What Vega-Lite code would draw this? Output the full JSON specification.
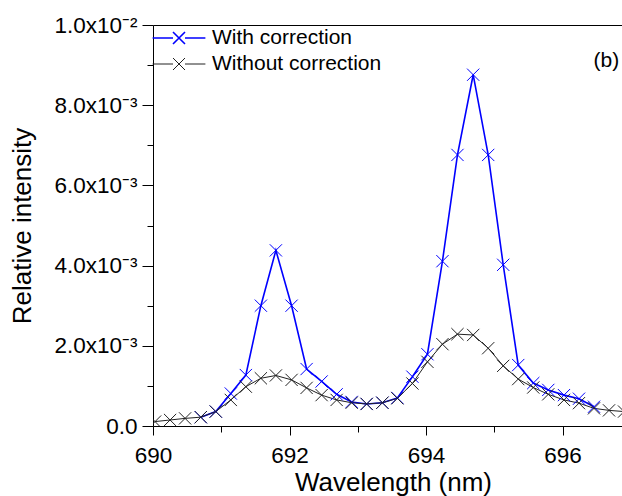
{
  "$schema": "https://vega.github.io/schema/vega-lite/v6.json",
  "width": 469,
  "height": 401,
  "autosize": {"type": "none"},
  "padding": {"left": 153, "top": 25, "right": 0, "bottom": 70},
  "background": "white",
  "config": {
    "view": {"stroke": null},
    "font": "Liberation Sans",
    "axis": {"grid": false, "domainColor": "black", "tickColor": "black", "labelColor": "black", "titleColor": "black", "domainWidth": 1, "tickWidth": 1}
  },
  "data": {
    "values": [
      {"wl": 690.70, "v": 0.00022, "series": "With correction"},
      {"wl": 690.92, "v": 0.00036, "series": "With correction"},
      {"wl": 691.14, "v": 0.00081, "series": "With correction"},
      {"wl": 691.36, "v": 0.00127, "series": "With correction"},
      {"wl": 691.58, "v": 0.00300, "series": "With correction"},
      {"wl": 691.80, "v": 0.00438, "series": "With correction"},
      {"wl": 692.03, "v": 0.00300, "series": "With correction"},
      {"wl": 692.25, "v": 0.00142, "series": "With correction"},
      {"wl": 692.47, "v": 0.00111, "series": "With correction"},
      {"wl": 692.69, "v": 0.00079, "series": "With correction"},
      {"wl": 692.91, "v": 0.00060, "series": "With correction"},
      {"wl": 693.13, "v": 0.00055, "series": "With correction"},
      {"wl": 693.36, "v": 0.00058, "series": "With correction"},
      {"wl": 693.58, "v": 0.00070, "series": "With correction"},
      {"wl": 693.80, "v": 0.00123, "series": "With correction"},
      {"wl": 694.02, "v": 0.00179, "series": "With correction"},
      {"wl": 694.24, "v": 0.00411, "series": "With correction"},
      {"wl": 694.46, "v": 0.00676, "series": "With correction"},
      {"wl": 694.69, "v": 0.00876, "series": "With correction"},
      {"wl": 694.91, "v": 0.00676, "series": "With correction"},
      {"wl": 695.13, "v": 0.00402, "series": "With correction"},
      {"wl": 695.35, "v": 0.00152, "series": "With correction"},
      {"wl": 695.57, "v": 0.00107, "series": "With correction"},
      {"wl": 695.79, "v": 0.00090, "series": "With correction"},
      {"wl": 696.02, "v": 0.00077, "series": "With correction"},
      {"wl": 696.24, "v": 0.00068, "series": "With correction"},
      {"wl": 696.46, "v": 0.00048, "series": "With correction"},
      {"wl": 690.03, "v": 0.00011, "series": "Without correction"},
      {"wl": 690.25, "v": 0.00015, "series": "Without correction"},
      {"wl": 690.47, "v": 0.00019, "series": "Without correction"},
      {"wl": 690.70, "v": 0.00022, "series": "Without correction"},
      {"wl": 690.92, "v": 0.00036, "series": "Without correction"},
      {"wl": 691.14, "v": 0.00065, "series": "Without correction"},
      {"wl": 691.36, "v": 0.00098, "series": "Without correction"},
      {"wl": 691.58, "v": 0.00119, "series": "Without correction"},
      {"wl": 691.80, "v": 0.00126, "series": "Without correction"},
      {"wl": 692.03, "v": 0.00115, "series": "Without correction"},
      {"wl": 692.25, "v": 0.00095, "series": "Without correction"},
      {"wl": 692.47, "v": 0.00077, "series": "Without correction"},
      {"wl": 692.69, "v": 0.00065, "series": "Without correction"},
      {"wl": 692.91, "v": 0.00058, "series": "Without correction"},
      {"wl": 693.13, "v": 0.00055, "series": "Without correction"},
      {"wl": 693.36, "v": 0.00058, "series": "Without correction"},
      {"wl": 693.58, "v": 0.00069, "series": "Without correction"},
      {"wl": 693.80, "v": 0.00106, "series": "Without correction"},
      {"wl": 694.02, "v": 0.00160, "series": "Without correction"},
      {"wl": 694.24, "v": 0.00204, "series": "Without correction"},
      {"wl": 694.46, "v": 0.00229, "series": "Without correction"},
      {"wl": 694.69, "v": 0.00227, "series": "Without correction"},
      {"wl": 694.91, "v": 0.00194, "series": "Without correction"},
      {"wl": 695.13, "v": 0.00150, "series": "Without correction"},
      {"wl": 695.35, "v": 0.00117, "series": "Without correction"},
      {"wl": 695.57, "v": 0.00096, "series": "Without correction"},
      {"wl": 695.79, "v": 0.00079, "series": "Without correction"},
      {"wl": 696.02, "v": 0.00065, "series": "Without correction"},
      {"wl": 696.24, "v": 0.00057, "series": "Without correction"},
      {"wl": 696.46, "v": 0.00044, "series": "Without correction"},
      {"wl": 696.68, "v": 0.00039, "series": "Without correction"},
      {"wl": 696.90, "v": 0.00036, "series": "Without correction"}
    ]
  },
  "layer": [
    {
      "mark": {"type": "line", "clip": true},
      "encoding": {
        "x": {
          "field": "wl", "type": "quantitative",
          "scale": {"domain": [690, 696.87], "nice": false, "zero": false},
          "axis": {
            "orient": "bottom",
            "title": "Wavelength (nm)",
            "values": [690, 692, 694, 696],
            "format": "d",
            "labelFontSize": 22.5,
            "labelPadding": 9,
            "labelFlush": false,
            "labelOverlap": false,
            "tickSize": 9,
            "titleFontSize": 26,
            "titleFontWeight": "normal",
            "titlePadding": 3,
            "titleX": 240
          }
        },
        "y": {
          "field": "v", "type": "quantitative",
          "scale": {"domain": [0, 0.01], "nice": false, "zero": true},
          "axis": {
            "orient": "left",
            "title": "Relative intensity",
            "values": [0, 0.002, 0.004, 0.006, 0.008, 0.01],
            "labelExpr": "datum.value === 0 ? '0.0' : (round(datum.value*1000) === 10 ? '1.0x10⁻²' : format(datum.value*1000, '.1f') + 'x10⁻³')",
            "labelFontSize": 22.5,
            "labelPadding": 5,
            "labelOverlap": false,
            "labelFlush": false,
            "tickSize": 11,
            "titleFontSize": 26,
            "titleFontWeight": "normal",
            "titlePadding": 18
          }
        },
        "color": {
          "field": "series", "type": "nominal",
          "scale": {"domain": ["With correction", "Without correction"], "range": ["#0000ff", "#222222"]},
          "legend": {
            "orient": "none",
            "legendX": 15.5,
            "legendY": 2.5,
            "title": null,
            "padding": 0,
            "symbolType": "M-4.4,0L-1,0M1,0L4.4,0M-1,-1L1,1M-1,1L1,-1",
            "symbolSize": 144,
            "symbolStrokeWidth": 1.2,
            "labelFont": "Liberation Sans",
            "labelFontSize": 21,
            "labelColor": "black",
            "labelLimit": 0,
            "labelOffset": 22.5,
            "rowPadding": 4
          }
        },
        "strokeWidth": {
          "field": "series", "type": "nominal",
          "scale": {"domain": ["With correction", "Without correction"], "range": [1.6, 1]},
          "legend": null
        }
      }
    },
    {
      "mark": {"type": "point", "clip": true, "filled": false, "shape": "M-1,-1L1,1M-1,1L1,-1", "size": 150, "strokeWidth": 1, "opacity": 1},
      "encoding": {
        "x": {"field": "wl", "type": "quantitative", "axis": {"orient": "bottom", "values": [691, 693, 695], "labels": false, "domain": false, "tickSize": 6, "title": null}},
        "y": {"field": "v", "type": "quantitative", "axis": {"orient": "left", "values": [0.001, 0.003, 0.005, 0.007, 0.009], "labels": false, "domain": false, "tickSize": 6, "title": null}},
        "color": {
          "field": "series", "type": "nominal",
          "scale": {"domain": ["With correction", "Without correction"], "range": ["#0000ff", "#222222"]},
          "legend": {
            "orient": "none",
            "legendX": 15.5,
            "legendY": 2.5,
            "title": null,
            "padding": 0,
            "symbolType": "M-4.4,0L-1,0M1,0L4.4,0M-1,-1L1,1M-1,1L1,-1",
            "symbolSize": 144,
            "symbolStrokeWidth": 1.2,
            "labelFont": "Liberation Sans",
            "labelFontSize": 21,
            "labelColor": "black",
            "labelLimit": 0,
            "labelOffset": 22.5,
            "rowPadding": 4
          }
        }
      }
    },
    {
      "data": {"values": [{"label": "(b)"}]},
      "mark": {"type": "text", "align": "right", "baseline": "middle", "fontSize": 21, "font": "Liberation Sans", "color": "black"},
      "encoding": {
        "text": {"field": "label"},
        "x": {"datum": 696.83, "type": "quantitative", "axis": {"orient": "top", "title": null, "labels": false, "ticks": false, "domain": true}},
        "y": {"datum": 0.00909, "type": "quantitative", "axis": null}
      }
    }
  ],
  "resolve": {"axis": {"x": "independent", "y": "independent"}}
}
